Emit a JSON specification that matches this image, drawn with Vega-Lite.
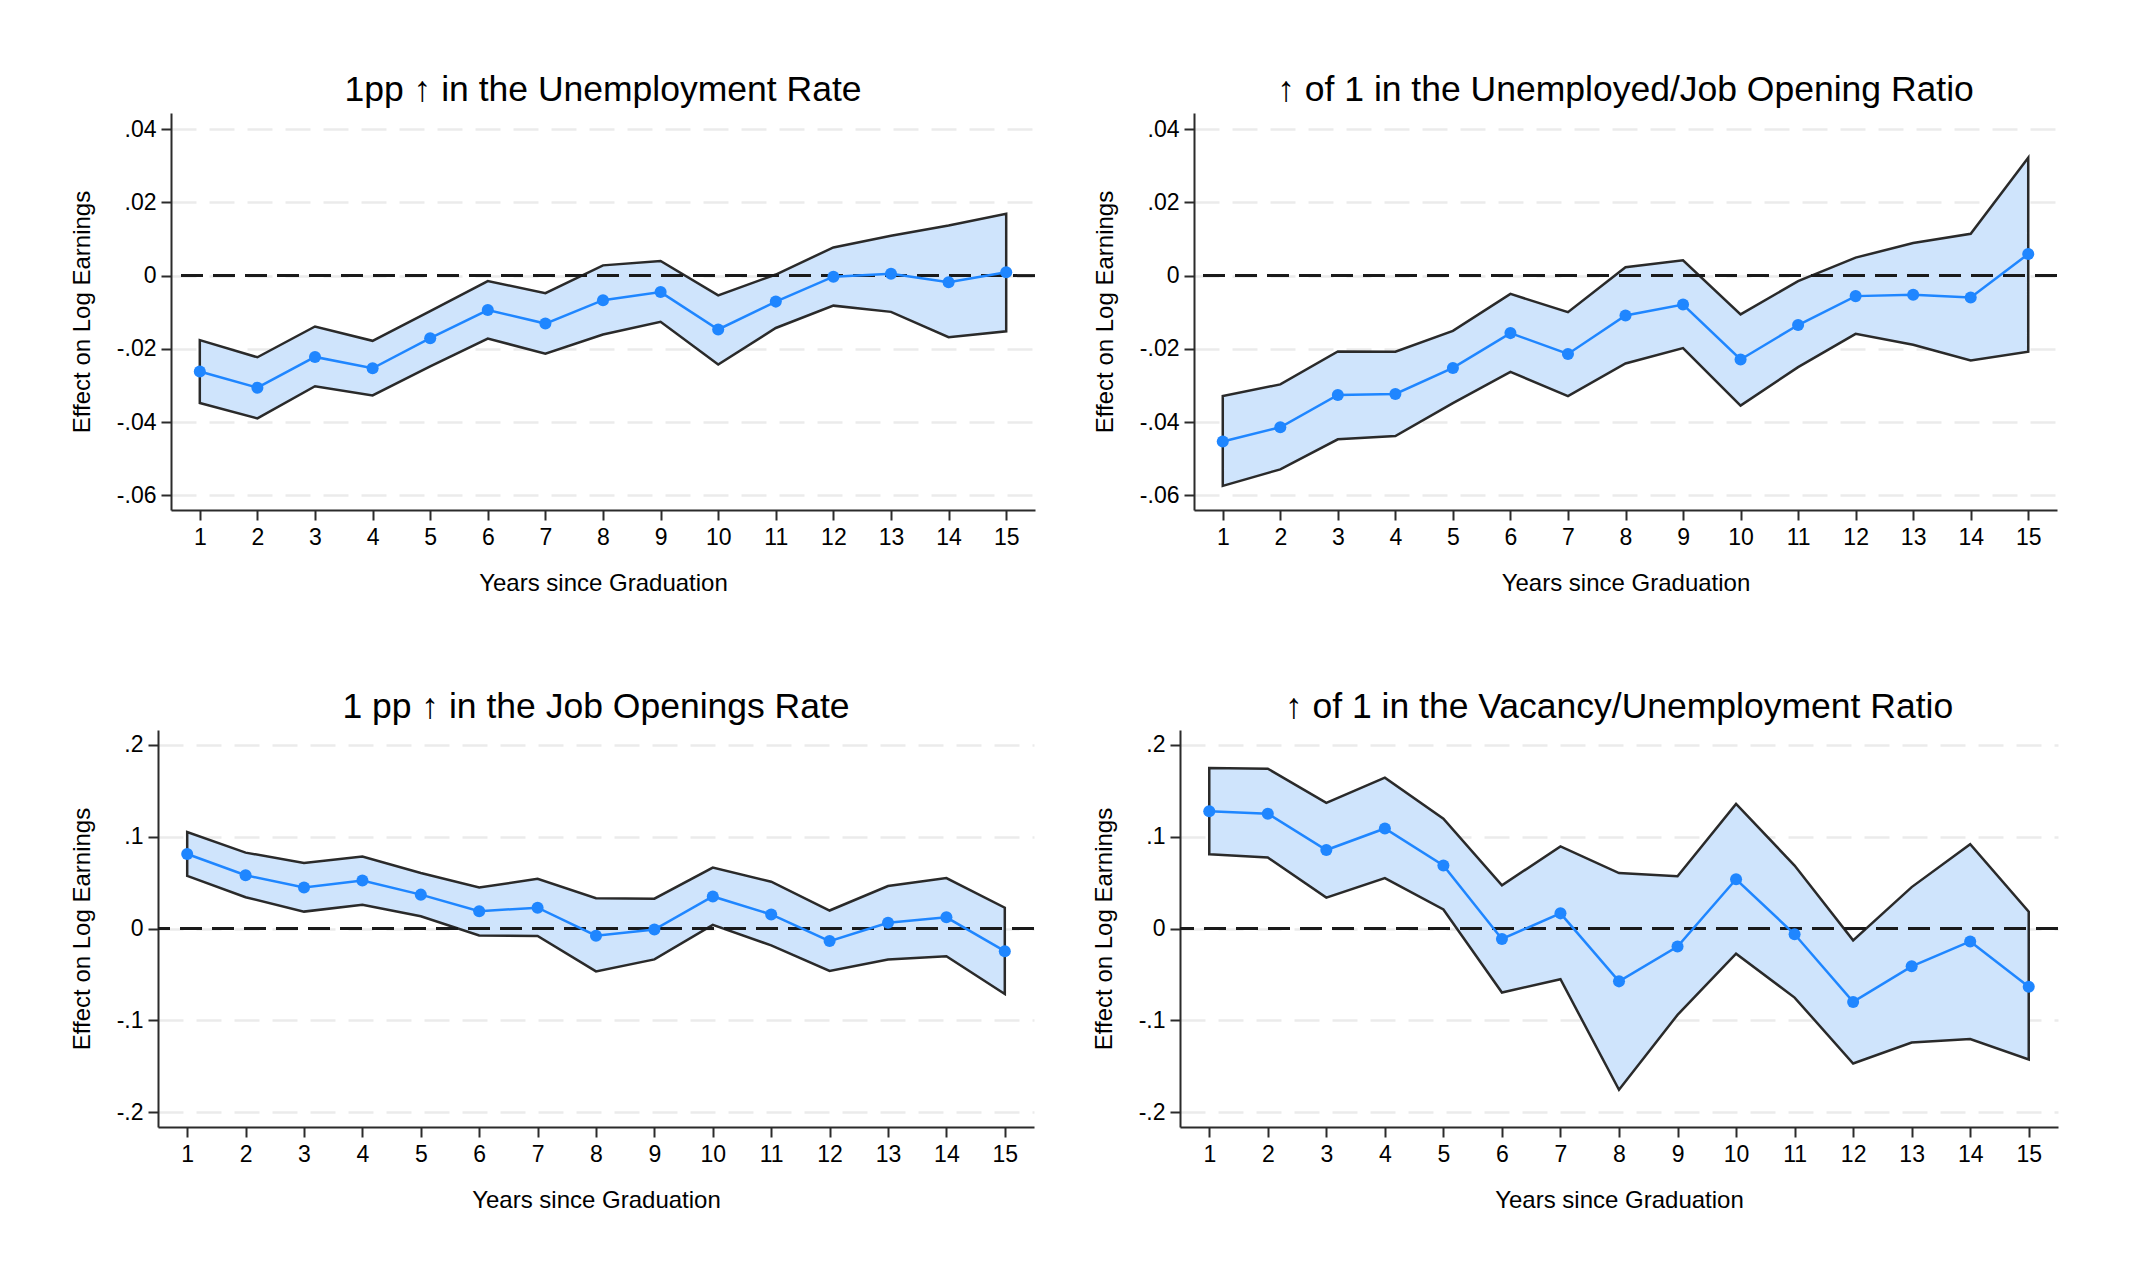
{
  "$schema": "https://vega.github.io/schema/vega-lite/v6.json",
  "background": "white",
  "padding": {"left": 13, "top": 72, "right": 10, "bottom": 10},
  "datasets": {
    "ur": [
      {"year": 1, "b": -0.0262, "lo": -0.0348, "hi": -0.0176},
      {"year": 2, "b": -0.0306, "lo": -0.0390, "hi": -0.0223},
      {"year": 3, "b": -0.0222, "lo": -0.0302, "hi": -0.0139},
      {"year": 4, "b": -0.0253, "lo": -0.0327, "hi": -0.0178},
      {"year": 5, "b": -0.0171, "lo": -0.0248, "hi": -0.0097},
      {"year": 6, "b": -0.0094, "lo": -0.0172, "hi": -0.0015},
      {"year": 7, "b": -0.0131, "lo": -0.0213, "hi": -0.0048},
      {"year": 8, "b": -0.0067, "lo": -0.0161, "hi": 0.0028},
      {"year": 9, "b": -0.0045, "lo": -0.0126, "hi": 0.0040},
      {"year": 10, "b": -0.0147, "lo": -0.0243, "hi": -0.0054},
      {"year": 11, "b": -0.0071, "lo": -0.0143, "hi": 0.0003},
      {"year": 12, "b": -0.0003, "lo": -0.0082, "hi": 0.0077},
      {"year": 13, "b": 0.0005, "lo": -0.0099, "hi": 0.0109},
      {"year": 14, "b": -0.0018, "lo": -0.0168, "hi": 0.0137},
      {"year": 15, "b": 0.0009, "lo": -0.0152, "hi": 0.0169}
    ],
    "ujo": [
      {"year": 1, "b": -0.0453, "lo": -0.0574, "hi": -0.0329},
      {"year": 2, "b": -0.0414, "lo": -0.0529, "hi": -0.0297},
      {"year": 3, "b": -0.0326, "lo": -0.0447, "hi": -0.0207},
      {"year": 4, "b": -0.0323, "lo": -0.0438, "hi": -0.0208},
      {"year": 5, "b": -0.0252, "lo": -0.0348, "hi": -0.0151},
      {"year": 6, "b": -0.0157, "lo": -0.0263, "hi": -0.0050},
      {"year": 7, "b": -0.0214, "lo": -0.0329, "hi": -0.0100},
      {"year": 8, "b": -0.0109, "lo": -0.0240, "hi": 0.0023},
      {"year": 9, "b": -0.0079, "lo": -0.0198, "hi": 0.0042},
      {"year": 10, "b": -0.0229, "lo": -0.0355, "hi": -0.0106},
      {"year": 11, "b": -0.0135, "lo": -0.0250, "hi": -0.0015},
      {"year": 12, "b": -0.0056, "lo": -0.0159, "hi": 0.0049},
      {"year": 13, "b": -0.0052, "lo": -0.0189, "hi": 0.0089},
      {"year": 14, "b": -0.0060, "lo": -0.0232, "hi": 0.0114},
      {"year": 15, "b": 0.0059, "lo": -0.0208, "hi": 0.0322}
    ],
    "jo": [
      {"year": 1, "b": 0.0812, "lo": 0.0573, "hi": 0.1051},
      {"year": 2, "b": 0.0580, "lo": 0.0341, "hi": 0.0827},
      {"year": 3, "b": 0.0447, "lo": 0.0184, "hi": 0.0714},
      {"year": 4, "b": 0.0522, "lo": 0.0259, "hi": 0.0784},
      {"year": 5, "b": 0.0369, "lo": 0.0133, "hi": 0.0604},
      {"year": 6, "b": 0.0188, "lo": -0.0075, "hi": 0.0447},
      {"year": 7, "b": 0.0227, "lo": -0.0082, "hi": 0.0541},
      {"year": 8, "b": -0.0078, "lo": -0.0467, "hi": 0.0329},
      {"year": 9, "b": -0.0012, "lo": -0.0337, "hi": 0.0325},
      {"year": 10, "b": 0.0349, "lo": 0.0039, "hi": 0.0663},
      {"year": 11, "b": 0.0153, "lo": -0.0184, "hi": 0.0510},
      {"year": 12, "b": -0.0137, "lo": -0.0463, "hi": 0.0196},
      {"year": 13, "b": 0.0063, "lo": -0.0337, "hi": 0.0463},
      {"year": 14, "b": 0.0122, "lo": -0.0302, "hi": 0.0549},
      {"year": 15, "b": -0.0247, "lo": -0.0714, "hi": 0.0227}
    ],
    "vu": [
      {"year": 1, "b": 0.1278, "lo": 0.0808, "hi": 0.1749},
      {"year": 2, "b": 0.1251, "lo": 0.0773, "hi": 0.1741},
      {"year": 3, "b": 0.0855, "lo": 0.0337, "hi": 0.1369},
      {"year": 4, "b": 0.1090, "lo": 0.0549, "hi": 0.1643},
      {"year": 5, "b": 0.0686, "lo": 0.0208, "hi": 0.1196},
      {"year": 6, "b": -0.0114, "lo": -0.0698, "hi": 0.0471},
      {"year": 7, "b": 0.0165, "lo": -0.0553, "hi": 0.0894},
      {"year": 8, "b": -0.0576, "lo": -0.1757, "hi": 0.0604},
      {"year": 9, "b": -0.0196, "lo": -0.0941, "hi": 0.0569},
      {"year": 10, "b": 0.0537, "lo": -0.0275, "hi": 0.1357},
      {"year": 11, "b": -0.0063, "lo": -0.0753, "hi": 0.0686},
      {"year": 12, "b": -0.0800, "lo": -0.1471, "hi": -0.0129},
      {"year": 13, "b": -0.0412, "lo": -0.1243, "hi": 0.0451},
      {"year": 14, "b": -0.0141, "lo": -0.1204, "hi": 0.0918},
      {"year": 15, "b": -0.0635, "lo": -0.1427, "hi": 0.0184}
    ],
    "zero": [{"z": 0}],
    "none": []
  },
  "spacing": 94,
  "vconcat": [
    {
      "spacing": 56,
      "hconcat": [
        {
          "width": 1,
          "height": 1,
          "data": {"name": "none"},
          "mark": {"type": "point", "opacity": 0}
        },
        {
          "title": "1pp ↑ in the Unemployment Rate",
          "width": 864,
          "height": 397,
          "data": {"name": "ur"},
          "layer": [
            {
              "mark": {"type": "area", "fill": "#cfe4fc", "fillOpacity": 1, "stroke": "#2a2a2a", "strokeWidth": 2.5},
              "encoding": {
                "x": {"field": "year", "type": "quantitative", "scale": {"domain": [0.5, 15.5], "nice": false, "zero": false}, "axis": {"values": [1, 2, 3, 4, 5, 6, 7, 8, 9, 10, 11, 12, 13, 14, 15], "format": "d"}, "title": "Years since Graduation"},
                "y": {"field": "lo", "type": "quantitative", "scale": {"domain": [-0.064, 0.0444], "nice": false, "zero": false}, "axis": {"values": [-0.06, -0.04, -0.02, 0, 0.02, 0.04]}, "title": "Effect on Log Earnings"},
                "y2": {"field": "hi"}
              }
            },
            {
              "data": {"name": "zero"},
              "mark": {"type": "rule", "stroke": "#1a1a1a", "strokeWidth": 3, "strokeDash": [22, 10]},
              "encoding": {"y": {"field": "z", "type": "quantitative"}}
            },
            {
              "mark": {"type": "line", "color": "#1f86ff", "strokeWidth": 2.5, "point": {"filled": true, "size": 145, "color": "#1f86ff", "opacity": 1}},
              "encoding": {
                "x": {"field": "year", "type": "quantitative"},
                "y": {"field": "b", "type": "quantitative"}
              }
            }
          ]
        },
        {
          "title": "↑ of 1 in the Unemployed/Job Opening Ratio",
          "width": 863,
          "height": 397,
          "data": {"name": "ujo"},
          "layer": [
            {
              "mark": {"type": "area", "fill": "#cfe4fc", "fillOpacity": 1, "stroke": "#2a2a2a", "strokeWidth": 2.5},
              "encoding": {
                "x": {"field": "year", "type": "quantitative", "scale": {"domain": [0.5, 15.5], "nice": false, "zero": false}, "axis": {"values": [1, 2, 3, 4, 5, 6, 7, 8, 9, 10, 11, 12, 13, 14, 15], "format": "d"}, "title": "Years since Graduation"},
                "y": {"field": "lo", "type": "quantitative", "scale": {"domain": [-0.064, 0.0444], "nice": false, "zero": false}, "axis": {"values": [-0.06, -0.04, -0.02, 0, 0.02, 0.04]}, "title": "Effect on Log Earnings"},
                "y2": {"field": "hi"}
              }
            },
            {
              "data": {"name": "zero"},
              "mark": {"type": "rule", "stroke": "#1a1a1a", "strokeWidth": 3, "strokeDash": [22, 10]},
              "encoding": {"y": {"field": "z", "type": "quantitative"}}
            },
            {
              "mark": {"type": "line", "color": "#1f86ff", "strokeWidth": 2.5, "point": {"filled": true, "size": 145, "color": "#1f86ff", "opacity": 1}},
              "encoding": {
                "x": {"field": "year", "type": "quantitative"},
                "y": {"field": "b", "type": "quantitative"}
              }
            }
          ]
        }
      ]
    },
    {
      "spacing": 56,
      "hconcat": [
        {
          "width": 1,
          "height": 1,
          "data": {"name": "none"},
          "mark": {"type": "point", "opacity": 0}
        },
        {
          "title": "1 pp ↑ in the Job Openings Rate",
          "width": 876,
          "height": 397,
          "data": {"name": "jo"},
          "layer": [
            {
              "mark": {"type": "area", "fill": "#cfe4fc", "fillOpacity": 1, "stroke": "#2a2a2a", "strokeWidth": 2.5},
              "encoding": {
                "x": {"field": "year", "type": "quantitative", "scale": {"domain": [0.5, 15.5], "nice": false, "zero": false}, "axis": {"values": [1, 2, 3, 4, 5, 6, 7, 8, 9, 10, 11, 12, 13, 14, 15], "format": "d"}, "title": "Years since Graduation"},
                "y": {"field": "lo", "type": "quantitative", "scale": {"domain": [-0.2163, 0.2163], "nice": false, "zero": false}, "axis": {"values": [-0.2, -0.1, 0, 0.1, 0.2]}, "title": "Effect on Log Earnings"},
                "y2": {"field": "hi"}
              }
            },
            {
              "data": {"name": "zero"},
              "mark": {"type": "rule", "stroke": "#1a1a1a", "strokeWidth": 3, "strokeDash": [22, 10]},
              "encoding": {"y": {"field": "z", "type": "quantitative"}}
            },
            {
              "mark": {"type": "line", "color": "#1f86ff", "strokeWidth": 2.5, "point": {"filled": true, "size": 145, "color": "#1f86ff", "opacity": 1}},
              "encoding": {
                "x": {"field": "year", "type": "quantitative"},
                "y": {"field": "b", "type": "quantitative"}
              }
            }
          ]
        },
        {
          "title": "↑ of 1 in the Vacancy/Unemployment Ratio",
          "width": 878,
          "height": 397,
          "data": {"name": "vu"},
          "layer": [
            {
              "mark": {"type": "area", "fill": "#cfe4fc", "fillOpacity": 1, "stroke": "#2a2a2a", "strokeWidth": 2.5},
              "encoding": {
                "x": {"field": "year", "type": "quantitative", "scale": {"domain": [0.5, 15.5], "nice": false, "zero": false}, "axis": {"values": [1, 2, 3, 4, 5, 6, 7, 8, 9, 10, 11, 12, 13, 14, 15], "format": "d"}, "title": "Years since Graduation"},
                "y": {"field": "lo", "type": "quantitative", "scale": {"domain": [-0.2163, 0.2163], "nice": false, "zero": false}, "axis": {"values": [-0.2, -0.1, 0, 0.1, 0.2]}, "title": "Effect on Log Earnings"},
                "y2": {"field": "hi"}
              }
            },
            {
              "data": {"name": "zero"},
              "mark": {"type": "rule", "stroke": "#1a1a1a", "strokeWidth": 3, "strokeDash": [22, 10]},
              "encoding": {"y": {"field": "z", "type": "quantitative"}}
            },
            {
              "mark": {"type": "line", "color": "#1f86ff", "strokeWidth": 2.5, "point": {"filled": true, "size": 145, "color": "#1f86ff", "opacity": 1}},
              "encoding": {
                "x": {"field": "year", "type": "quantitative"},
                "y": {"field": "b", "type": "quantitative"}
              }
            }
          ]
        }
      ]
    }
  ],
  "config": {
    "font": "Liberation Sans",
    "view": {"stroke": null},
    "title": {"fontSize": 35.5, "fontWeight": "normal", "color": "#000000", "anchor": "middle", "frame": "group", "offset": 5},
    "axis": {
      "domainColor": "#2b2b2b",
      "domainWidth": 2,
      "tickColor": "#2b2b2b",
      "tickWidth": 2,
      "tickSize": 10,
      "labelFontSize": 23,
      "labelColor": "#000000",
      "titleFontSize": 24,
      "titleFontWeight": "normal",
      "titleColor": "#000000"
    },
    "axisY": {
      "grid": true,
      "gridColor": "#ebebeb",
      "gridWidth": 2.5,
      "gridDash": [25, 13],
      "labelPadding": 5,
      "titlePadding": 22,
      "labelExpr": "replace(replace(format(datum.value, '~g'), '−', '-'), '0.', '.')"
    },
    "axisX": {
      "grid": false,
      "labelAngle": 0,
      "labelFlush": false,
      "labelPadding": 6,
      "titlePadding": 22
    }
  }
}
